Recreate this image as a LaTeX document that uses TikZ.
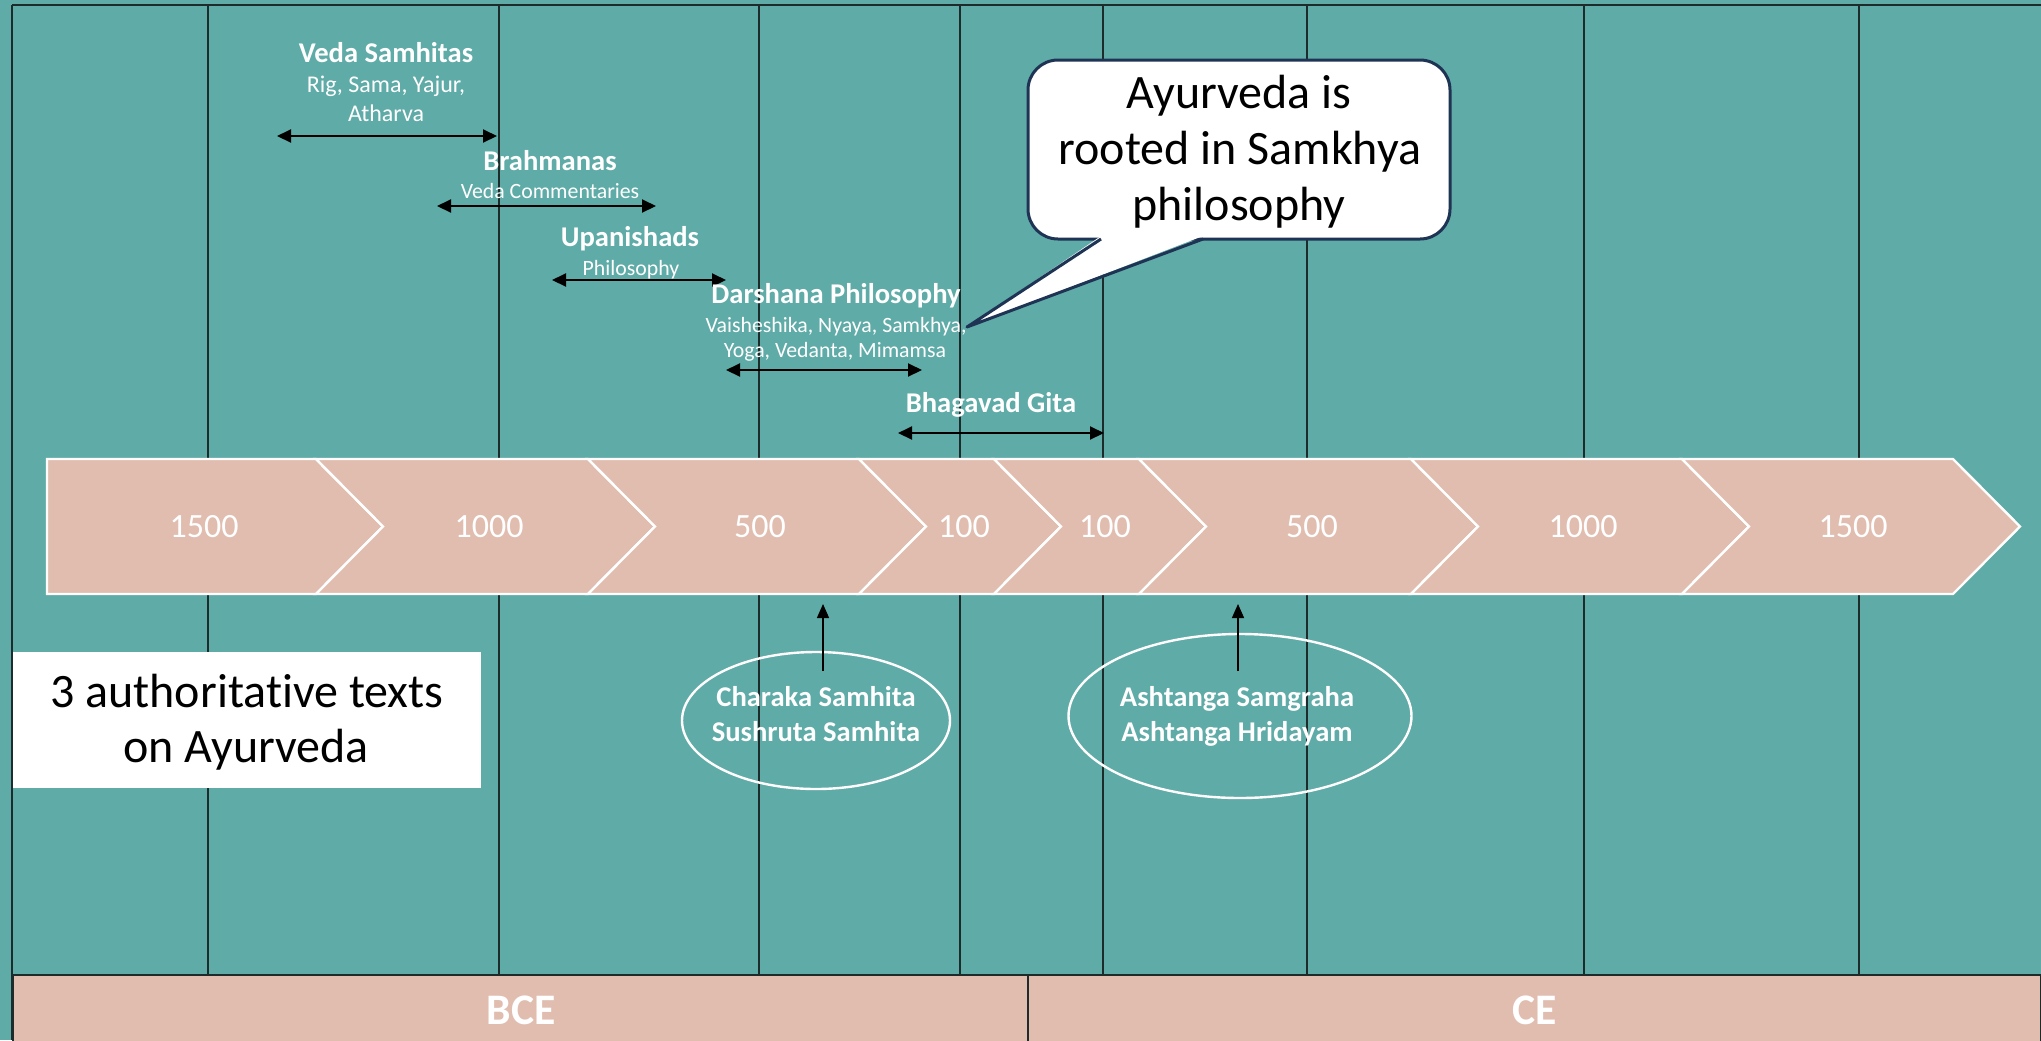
\documentclass[tikz,border=0pt]{standalone}
\usepackage{fontspec}
\setmainfont{Carlito}[Ligatures=NoCommon]
\usetikzlibrary{arrows.meta,shapes.geometric}
\definecolor{bgteal}{HTML}{5FABA7}
\definecolor{chevpink}{HTML}{E0BDAF}
\definecolor{callnavy}{HTML}{1F3454}
\definecolor{gridline}{HTML}{1E2B2B}
\begin{document}
\begin{tikzpicture}[x=0.5pt,y=-0.5pt,
  yearlbl/.style={text=white, font=\fontsize{17}{20}\selectfont, anchor=base, inner sep=0pt},
  headtxt/.style={text=white, font=\bfseries\fontsize{14.3}{17}\selectfont, anchor=base, inner sep=0pt},
  subtxt/.style={text=white, font=\fontsize{10.9}{13}\selectfont, anchor=base, inner sep=0pt},
  bigsub/.style={text=white, font=\fontsize{12}{14}\selectfont, anchor=base, inner sep=0pt},
  bigtxt/.style={text=black, font=\fontsize{24}{28}\selectfont, anchor=base, inner sep=0pt},
  eratxt/.style={text=white, font=\bfseries\fontsize{21.8}{25}\selectfont, anchor=base, inner sep=0pt},
  spanarrow/.style={{Triangle[length=7pt,width=6.5pt]}-{Triangle[length=7pt,width=6.5pt]}, line width=1pt, black},
  uparr/.style={-{Triangle[length=7pt,width=6pt]}, line width=0.7pt, black},
  chev/.style={fill=chevpink, draw=white, line width=1.2pt},
  vline/.style={draw=gridline, line width=0.7pt},
  textellipse/.style={ellipse, draw=white, line width=1.2pt, inner sep=0pt}
]
\useasboundingbox (0,0) rectangle (2041,1040);
\fill[bgteal] (0,0) rectangle (2041,1040);

% grid lines
\foreach \x in {208,499,759,960,1103,1307,1584,1859}
  \draw[vline] (\x,5) -- (\x,975);
\draw[gridline, line width=1pt] (12,5) -- (2041,5);
\draw[gridline, line width=1pt] (12,5) -- (12,1040);

% chevrons
\draw[chev] (47,459) -- (316,459) -- (383,526.5) -- (316,594) -- (47,594) -- cycle;
\foreach \s/\e in {316/588, 588/859, 859/994, 994/1139, 1139/1411, 1411/1682, 1682/1953}
  \draw[chev] (\s,459) -- (\e,459) -- ({\e+67},526.5) -- (\e,594) -- (\s,594) -- ({\s+67},526.5) -- cycle;

\node[yearlbl] (y1) at (204,537) {1500};
\node[yearlbl] (y2) at (489,537) {1000};
\node[yearlbl] (y3) at (760,537) {500};
\node[yearlbl] (y4) at (964,537) {100};
\node[yearlbl] (y5) at (1105,537) {100};
\node[yearlbl] (y6) at (1312,537) {500};
\node[yearlbl] (y7) at (1583,537) {1000};
\node[yearlbl] (y8) at (1853,537) {1500};

% bottom era band
\draw[fill=chevpink, draw=gridline, line width=1pt] (13,975) rectangle (2041,1045);
\draw[gridline, line width=1pt] (1028,975) -- (1028,1045);
\node[eratxt] (bce) at (521,1024) {BCE};
\node[eratxt] (ce) at (1535,1024) {CE};

% headings and spans
\node[headtxt] (veda) at (386,62) {Veda Samhitas};
\node[bigsub] (vedasub1) at (386,92) {Rig, Sama, Yajur,};
\node[bigsub] (vedasub2) at (386,121) {Atharva};
\coordinate (vedaL) at (277,136);
\coordinate (vedaR) at (497,136);
\draw[spanarrow] (vedaL) -- (vedaR);

\node[headtxt] (brah) at (550,170) {Brahmanas};
\node[subtxt] (brahsub) at (550,198) {Veda Commentaries};
\coordinate (brahL) at (437,206);
\coordinate (brahR) at (656,206);
\draw[spanarrow] (brahL) -- (brahR);

\node[headtxt] (upa) at (630,246) {Upanishads};
\node[subtxt] (upasub) at (631,275) {Philosophy};
\coordinate (upaL) at (552,280);
\coordinate (upaR) at (726,280);
\draw[spanarrow] (upaL) -- (upaR);

\node[headtxt] (dar) at (836,303) {Darshana Philosophy};
\node[subtxt] (darsub1) at (836,332) {Vaisheshika, Nyaya, Samkhya,};
\node[subtxt] (darsub2) at (835,357) {Yoga, Vedanta, Mimamsa};
\coordinate (darL) at (726,370);
\coordinate (darR) at (922,370);
\draw[spanarrow] (darL) -- (darR);

\node[headtxt] (gita) at (991,412) {Bhagavad Gita};
\coordinate (gitaL) at (898,433);
\coordinate (gitaR) at (1104,433);
\draw[spanarrow] (gitaL) -- (gitaR);

% callout
\node[draw=callnavy, line width=1.5pt, fill=white, rounded corners=15pt,
      minimum width=211pt, minimum height=89.5pt, inner sep=0pt] (callout) at (1239,149.5) {};
\coordinate (ptrA) at (1101,239);
\coordinate (ptrB) at (1203,239);
\coordinate (ptrTip) at (967,327);
\fill[white] (1101,236) -- (ptrTip) -- (1203,236) -- cycle;
\draw[callnavy, line width=1.5pt, line join=round] (ptrA) -- (ptrTip) -- (ptrB);
\node[bigtxt] (call1) at (1239,108) {Ayurveda is};
\node[bigtxt] (call2) at (1240,164) {rooted in Samkhya};
\node[bigtxt] (call3) at (1239,220) {philosophy};

% white box
\node[fill=white, minimum width=234pt, minimum height=68pt, inner sep=0pt] (authbox) at (247,720) {};
\node[bigtxt] (auth1) at (247,707) {3 authoritative texts};
\node[bigtxt] (auth2) at (246,762) {on Ayurveda};

% ellipses
\node[textellipse, minimum width=134pt, minimum height=68.5pt] (charaka) at (816,720.5) {};
\node[headtxt] (charaka1) at (816,706) {Charaka Samhita};
\node[headtxt] (charaka2) at (816,741) {Sushruta Samhita};
\coordinate (charakaFrom) at (823,671);
\coordinate (charakaTo) at (823,604);
\draw[uparr] (charakaFrom) -- (charakaTo);

\node[textellipse, minimum width=171.5pt, minimum height=82pt] (ashtanga) at (1240,716) {};
\node[headtxt] (ashtanga1) at (1237,706) {Ashtanga Samgraha};
\node[headtxt] (ashtanga2) at (1237,741) {Ashtanga Hridayam};
\coordinate (ashtangaFrom) at (1238,671);
\coordinate (ashtangaTo) at (1238,604);
\draw[uparr] (ashtangaFrom) -- (ashtangaTo);
\end{tikzpicture}
\end{document}
